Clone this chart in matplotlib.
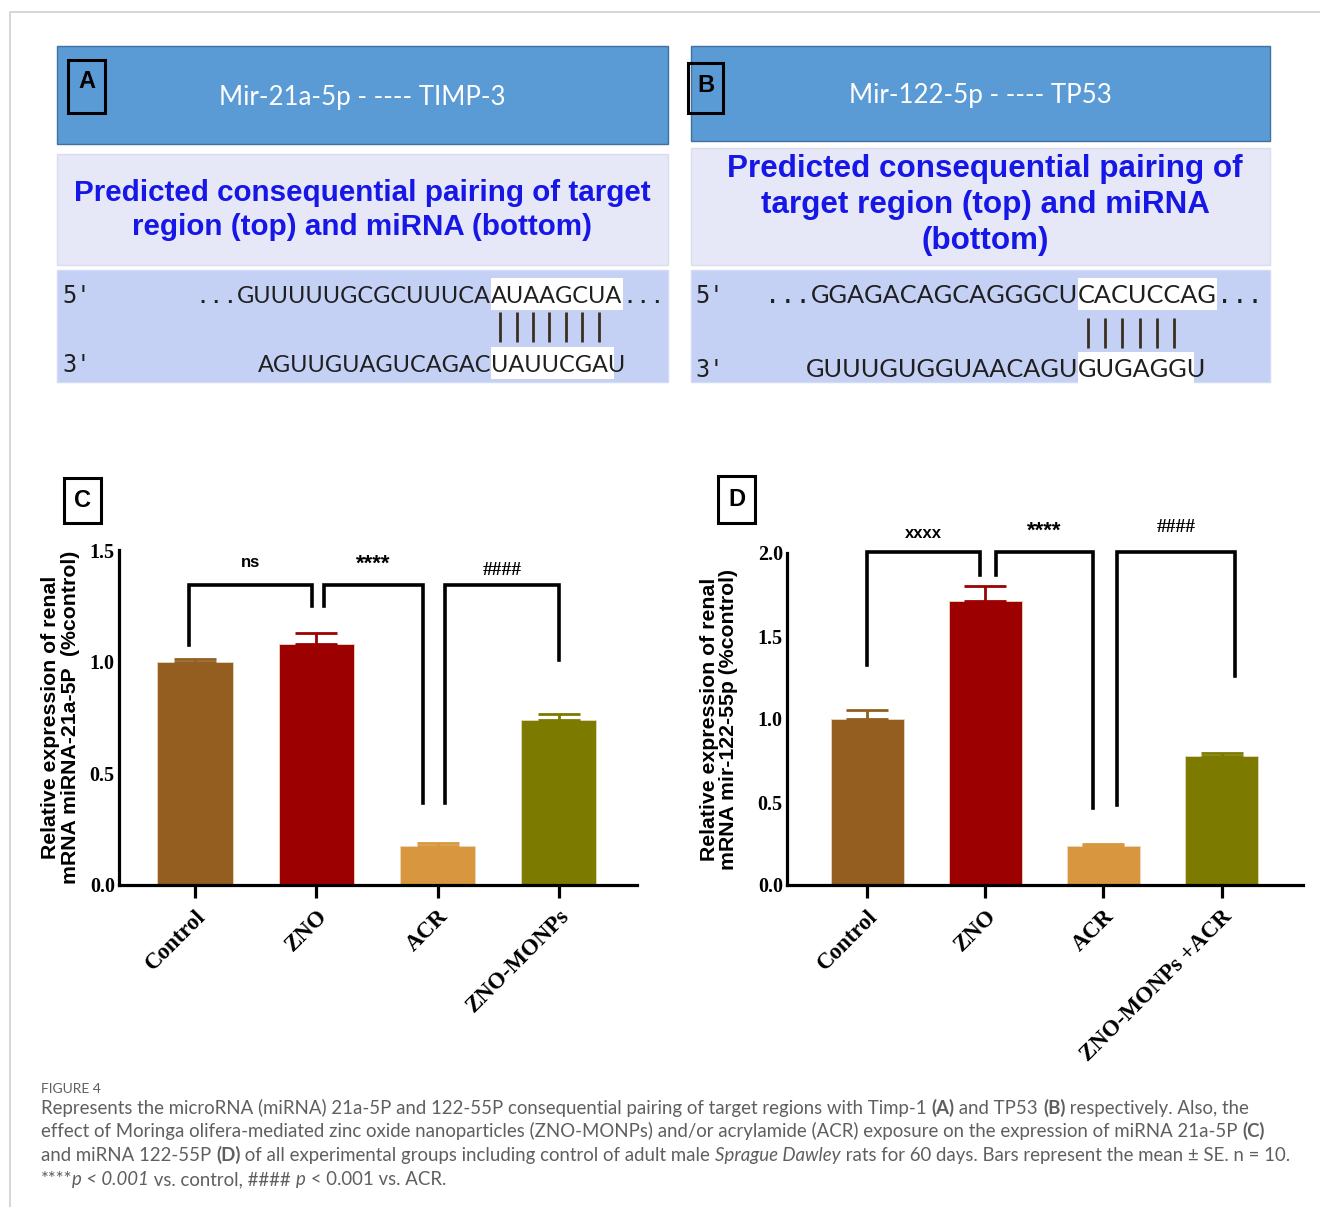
import matplotlib
matplotlib.use('Agg')
import matplotlib.pyplot as plt
from matplotlib.patches import Rectangle
from matplotlib.font_manager import FontProperties
import numpy as np

W, H, DPI = 1320, 1207, 100

# ---------------- data ----------------
groups_c = ['Control', 'ZNO', 'ACR', 'ZNO-MONPs']
mean_c = [1.00, 1.08, 0.175, 0.74]
se_c = [0.012, 0.05, 0.015, 0.025]

groups_d = ['Control', 'ZNO', 'ACR', 'ZNO-MONPs +ACR']
mean_d = [1.00, 1.71, 0.235, 0.777]
se_d = [0.055, 0.09, 0.012, 0.02]

bar_colors = ['#935E1F', '#9C0000', '#D8963E', '#7D7A00']

yticks_c = [0.0, 0.5, 1.0, 1.5]
yticks_d = [0.0, 0.5, 1.0, 1.5, 2.0]

# significance brackets: (group i, group j, label, leg bottom i, leg bottom j)
sig_c = [(0, 1, 'ns', 1.075, 1.25), (1, 2, '****', 1.25, 0.367), (2, 3, '####', 0.367, 1.008)]
sig_d = [(0, 1, 'xxxx', 1.325, 1.867), (1, 2, '****', 1.867, 0.464), (2, 3, '####', 0.482, 1.26)]
top_c, top_d = 1.343, 2.006

seqA_top = ['...', 'GUUUUUGCGCUUUCA', 'AUAAGCUA', '...']
seqA_bot = ['AGUUGUAGUCAGAC', 'UAUUCGAU']
seqB_top = ['...', 'GGAGACAGCAGGGCU', 'CACUCCAG', '...']
seqB_bot = ['GUUUGUGGUAACAGU', 'GUGAGGU']

# ---------------- figure ----------------
fig = plt.figure(figsize=(W / DPI, H / DPI), dpi=DPI)
fig.patch.set_facecolor('white')
ov = fig.add_axes([0, 0, 1, 1], zorder=0)
ov.set_xlim(0, W)
ov.set_ylim(H, 0)
ov.axis('off')
renderer = fig.canvas.get_renderer()

# card border
ov.plot([9.5, 9.5, W], [H, 12, 12], color='#cfcfcf', lw=1.2, solid_capstyle='butt')

MONO = 'DejaVu Sans Mono'
SEQF = 'Lato'


def px_width(s, size, family, weight='normal', style='normal'):
    fp = FontProperties(family=family, size=size, weight=weight, style=style)
    w1, _, _ = renderer.get_text_width_height_descent('x' + s + 'x', fp, ismath=False)
    w2, _, _ = renderer.get_text_width_height_descent('xx', fp, ismath=False)
    return w1 - w2


def segs(x, y, parts, color='black', va='baseline'):
    """parts: list of (text, size, family, weight, style, highlight)"""
    cx = x
    out = []
    for txt, size, fam, wt, st, hl in parts:
        w = px_width(txt, size, fam, wt, st)
        out.append((cx, cx + w, hl))
        ov.text(cx, y, txt, fontsize=size, family=fam, fontweight=wt, fontstyle=st,
                color=color, ha='left', va=va, zorder=3)
        cx += w
    return out


def panel_top(x0, x1, ytop, ybot, title, lab, lab_box):
    ov.add_patch(Rectangle((x0, ytop), x1 - x0, ybot - ytop, fc='#5B9BD5', ec='#41719C', lw=1.0, zorder=1))
    ov.text((x0 + x1) / 2, (ytop + ybot) / 2 + 2, title, color='white', fontsize=18.6,
            family=['Lato', 'DejaVu Sans'], ha='center', va='center', zorder=3)
    bx0, by0, bx1, by1 = lab_box
    ov.add_patch(Rectangle((bx0, by0), bx1 - bx0, by1 - by0, fc='none', ec='black', lw=2.2, zorder=3))
    ov.text((bx0 + bx1) / 2, by0 + 22, lab, fontsize=17, fontweight='bold', family='Liberation Sans',
            ha='center', va='center', zorder=4)


# ---------------- panel A ----------------
panel_top(57, 668, 46, 144, 'Mir-21a-5p - ---- TIMP-3', 'A', (68, 60, 105, 113))
ov.add_patch(Rectangle((57, 154), 611, 111, fc='#E6E8F8', ec='#DADDF0', lw=1, zorder=1))
ov.text(362, 210, 'Predicted consequential pairing of target\nregion (top) and miRNA (bottom)',
        color='#1616E6', fontsize=21.3, fontweight='bold', family='Liberation Sans',
        ha='center', va='center', linespacing=1.27, zorder=3)
ov.add_patch(Rectangle((57, 270), 611, 112, fc='#C4D1F5', ec='#D2DBF5', lw=1, zorder=1))

# ---------------- panel B ----------------
panel_top(691, 1270, 46, 141, 'Mir-122-5p - ---- TP53', 'B', (688, 63, 723, 113))
ov.add_patch(Rectangle((691, 148), 579, 117, fc='#E6E8F8', ec='#DADDF0', lw=1, zorder=1))
ov.text(985, 205, 'Predicted consequential pairing of\ntarget region (top) and miRNA\n(bottom)',
        color='#1616E6', fontsize=22.6, fontweight='bold', family='Liberation Sans',
        ha='center', va='center', linespacing=1.24, zorder=3)
ov.add_patch(Rectangle((691, 270), 579, 112, fc='#C4D1F5', ec='#D2DBF5', lw=1, zorder=1))

SEQ_COLOR = '#1f1f1f'


def seq_block(xprime, x_top, y_top, top, y_bot, bot, npipes, y_pipe, target_top_w):
    ov.text(xprime, y_top, "5'", fontsize=17, family=MONO, color=SEQ_COLOR, ha='left', va='baseline', zorder=3)
    ov.text(xprime, y_bot, "3'", fontsize=17, family=MONO, color=SEQ_COLOR, ha='left', va='baseline', zorder=3)
    # fit sequence font size to target width
    base = 20.0
    w = sum(px_width(p, base, MONO if p == '...' else SEQF) for p in top)
    size = base * target_top_w / w
    parts = [(p, size, MONO if p == '...' else SEQF, 'normal', 'normal', i == 2) for i, p in enumerate(top)]
    ext = segs(x_top, y_top, parts, color=SEQ_COLOR)
    hx0, hx1 = ext[2][0], ext[2][1]
    ov.add_patch(Rectangle((hx0, y_top - 25), hx1 - hx0, 32, fc='white', ec='none', zorder=2))
    # bottom: align highlighted part with top highlight start
    wpre = px_width(bot[0], size, SEQF)
    ext2 = segs(hx0 - wpre, y_bot, [(bot[0], size, SEQF, 'normal', 'normal', False),
                                    (bot[1], size, SEQF, 'normal', 'normal', True)], color=SEQ_COLOR)
    bx0, bx1 = ext2[1][0], ext2[1][1]
    ov.add_patch(Rectangle((bx0, y_bot - 25), bx1 - bx0 - 12, 32, fc='white', ec='none', zorder=2))
    # pairing bars
    step = (hx1 - hx0) / len(top[2])
    pipes = hx0 + step * (np.arange(npipes) + 0.55)
    ov.vlines(pipes, y_pipe - 15, y_pipe + 15, color='#3b3020', lw=2.0, zorder=3)


seq_block(62, 195, 303, seqA_top, 372, seqA_bot, 7, 327, 467)
seq_block(695, 765, 303, seqB_top, 377, seqB_bot, 6, 333, 497)


# ---------------- bar charts ----------------
def rect(l, t, r, b):
    return [l / W, 1 - b / H, (r - l) / W, (b - t) / H]


def bar_panel(box, groups, means, ses, yticks, ylim, xlim, sig, top, ylabel, lab, lab_box,
              xoffs, label_y_off, labelpad):
    ax = fig.add_axes(rect(*box), zorder=2)
    ax.set_facecolor('none')
    x = np.arange(len(groups))
    ax.bar(x, means, width=0.62, color=bar_colors, edgecolor='#e8d8c0', linewidth=0.6, zorder=2)
    for xi, m, s, c in zip(x, means, ses, bar_colors):
        ax.errorbar([xi], [m], yerr=[[0], [s]], fmt='none', ecolor=c, elinewidth=2.0,
                    capsize=15, capthick=2.0, zorder=3)
    ax.set_xlim(*xlim)
    ax.set_ylim(*ylim)
    for sp in ['top', 'right']:
        ax.spines[sp].set_visible(False)
    for sp in ['left', 'bottom']:
        ax.spines[sp].set_linewidth(2.3)
    ax.set_yticks(yticks)
    ax.set_yticklabels(['%.1f' % v for v in yticks], fontsize=14.5, fontweight='bold',
                       family='Liberation Serif')
    ax.tick_params(axis='y', length=0, pad=3)
    ax.set_xticks(x)
    ax.set_xticklabels(groups, rotation=45, ha='right', rotation_mode='anchor', fontsize=16.5,
                       fontweight='bold', family='Liberation Serif')
    ax.tick_params(axis='x', length=9, width=2.3, pad=6)
    ax.set_ylabel(ylabel, fontsize=15.3, fontweight='bold', family='Liberation Sans',
                  labelpad=labelpad, linespacing=1.05)
    # brackets
    for k, (i, j, txt, bi, bj) in enumerate(sig):
        xl, xr = i + xoffs[k][0], j + xoffs[k][1]
        ax.plot([xl, xl, xr, xr], [bi, top, top, bj], color='black', lw=2.6, clip_on=False,
                solid_joinstyle='miter', zorder=4)
        if txt.startswith('#'):
            fam, sz = 'Liberation Serif', 14
        elif txt.startswith('*'):
            fam, sz = 'Liberation Sans', 16
        else:
            fam, sz = 'Liberation Sans', 12
        ax.text((xl + xr) / 2, top + label_y_off[k], txt, ha='center', va='center', fontsize=sz,
                fontweight='bold', family=fam, clip_on=False)
    bx0, by0, bx1, by1 = lab_box
    ov.add_patch(Rectangle((bx0, by0), bx1 - bx0, by1 - by0, fc='none', ec='black', lw=2.2, zorder=3))
    ov.text((bx0 + bx1) / 2, (by0 + by1) / 2, lab, fontsize=17, fontweight='bold',
            family='Liberation Sans', ha='center', va='center', zorder=4)
    return ax


axc = bar_panel((119, 550, 637, 885), groups_c, mean_c, se_c, yticks_c, (0, 1.5), (-0.627, 3.644),
                sig_c, top_c, 'Relative expression of renal\nmRNA miRNA-21a-5P  (%control)', 'C',
                (64, 478, 101, 523), [(-0.05, -0.035), (0.063, -0.12), (0.06, 0.0)],
                [0.10, 0.095, 0.065], 7)
axd = bar_panel((787, 553, 1303, 885), groups_d, mean_d, se_d, yticks_d, (0, 2.0), (-0.68, 3.69),
                sig_d, top_d, 'Relative expression of renal\nmRNA mir-122-55p (%control)', 'D',
                (718, 476, 755, 523), [(0.0, -0.047), (0.089, -0.089), (0.114, 0.114)],
                [0.11, 0.125, 0.15], 14)

# ---------------- caption ----------------
CAP = 'Lato'
CAPC = '#5f5f5f'
ov.text(41, 1093, 'FIGURE 4', fontsize=10, family=CAP, color=CAPC, ha='left', va='baseline')

lines = [
    [('Represents the microRNA (miRNA) 21a-5P and 122-55P consequential pairing of target regions with Timp-1 ', 'normal', 'normal'),
     ('(A)', 'bold', 'normal'), (' and TP53 ', 'normal', 'normal'), ('(B)', 'bold', 'normal'),
     (' respectively. Also, the', 'normal', 'normal')],
    [('effect of Moringa olifera-mediated zinc oxide nanoparticles (ZNO-MONPs) and/or acrylamide (ACR) exposure on the expression of miRNA 21a-5P ', 'normal', 'normal'),
     ('(C)', 'bold', 'normal')],
    [('and miRNA 122-55P ', 'normal', 'normal'), ('(D)', 'bold', 'normal'),
     (' of all experimental groups including control of adult male ', 'normal', 'normal'),
     ('Sprague Dawley', 'normal', 'italic'),
     (' rats for 60 days. Bars represent the mean \u00b1 SE. n = 10.', 'normal', 'normal')],
    [('****', 'normal', 'normal'), ('p < 0.001', 'normal', 'italic'),
     (' vs. control, #### ', 'normal', 'normal'), ('p', 'normal', 'italic'),
     (' < 0.001 vs. ACR.', 'normal', 'normal')],
]
base = 13.0
wmax = max(sum(px_width(t, base, CAP, wt, st) for t, wt, st in ln) for ln in lines)
cap_size = base * (1292 - 41) / wmax
for ln, yb in zip(lines, [1114, 1137, 1161, 1185]):
    segs(41, yb, [(t, cap_size, CAP, wt, st, False) for t, wt, st in ln], color=CAPC)

fig.savefig('out.png', dpi=DPI, facecolor='white')
